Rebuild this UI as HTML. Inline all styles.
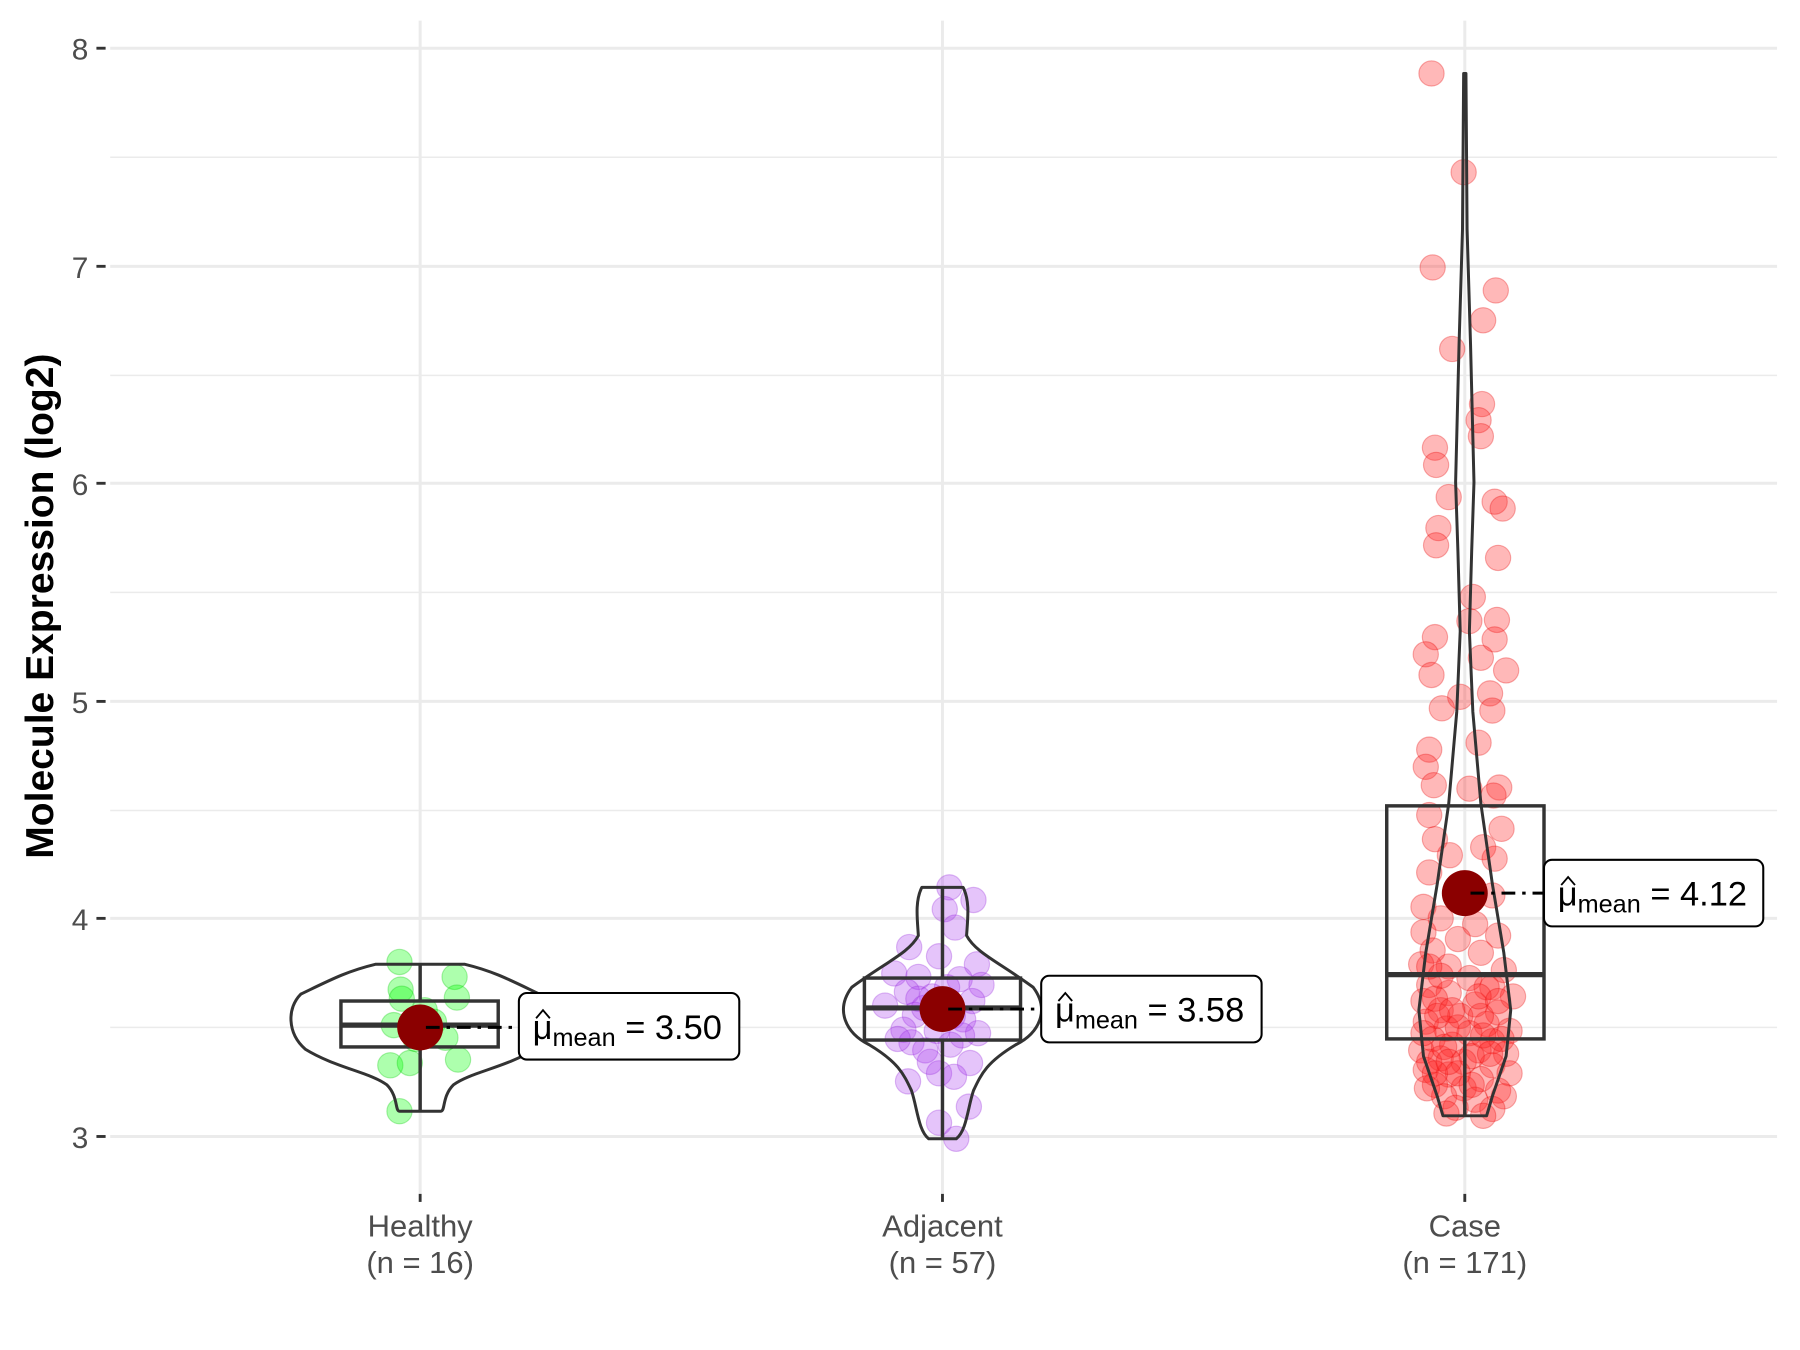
<!DOCTYPE html>
<html><head><meta charset="utf-8"><style>html,body{margin:0;padding:0;background:#fff}svg{display:block}</style></head>
<body>
<svg width="1800" height="1350" viewBox="0 0 1568 1176" xmlns="http://www.w3.org/2000/svg" font-family="Liberation Sans, Arial, sans-serif">
<rect width="1568" height="1176" fill="#fff"/>
<g stroke="#ebebeb" stroke-width="1.3">
<line x1="96" x2="1548" y1="137" y2="137"/><line x1="96" x2="1548" y1="327" y2="327"/>
<line x1="96" x2="1548" y1="516" y2="516"/><line x1="96" x2="1548" y1="706" y2="706"/>
<line x1="96" x2="1548" y1="895" y2="895"/>
</g>
<g stroke="#ebebeb" stroke-width="2.6">
<line x1="96" x2="1548" y1="42" y2="42"/><line x1="96" x2="1548" y1="232" y2="232"/>
<line x1="96" x2="1548" y1="421" y2="421"/><line x1="96" x2="1548" y1="611" y2="611"/>
<line x1="96" x2="1548" y1="800" y2="800"/><line x1="96" x2="1548" y1="990" y2="990"/>
<line x1="366" x2="366" y1="18" y2="1040"/><line x1="821" x2="821" y1="18" y2="1040"/><line x1="1276" x2="1276" y1="18" y2="1040"/>
</g>
<g stroke="#333" stroke-width="2.5">
<line x1="84" x2="92" y1="42" y2="42"/><line x1="84" x2="92" y1="232" y2="232"/><line x1="84" x2="92" y1="421" y2="421"/>
<line x1="84" x2="92" y1="611" y2="611"/><line x1="84" x2="92" y1="800" y2="800"/><line x1="84" x2="92" y1="990" y2="990"/>
<line x1="366" x2="366" y1="1040" y2="1047"/><line x1="821" x2="821" y1="1040" y2="1047"/><line x1="1276" x2="1276" y1="1040" y2="1047"/>
</g>
<g fill="#4d4d4d" font-size="26" text-anchor="end">
<text x="77" y="52">8</text><text x="77" y="242">7</text><text x="77" y="431">6</text>
<text x="77" y="621">5</text><text x="77" y="810">4</text><text x="77" y="1000">3</text>
</g>
<text transform="translate(46,528) rotate(-90)" text-anchor="middle" font-size="34" font-weight="bold" fill="#000">Molecule Expression (log2)</text>
<g fill="#4d4d4d" font-size="27" text-anchor="middle">
<text x="366" y="1077">Healthy</text><text x="366" y="1109">(n = 16)</text>
<text x="821" y="1077">Adjacent</text><text x="821" y="1109">(n = 57)</text>
<text x="1276" y="1077">Case</text><text x="1276" y="1109">(n = 171)</text>
</g>
<g fill="rgba(0,255,0,0.32)" stroke="rgba(0,200,0,0.3)">
<circle cx="348" cy="838" r="11"/><circle cx="396" cy="851" r="11"/><circle cx="349" cy="862" r="11"/><circle cx="350" cy="870" r="11"/>
<circle cx="398" cy="869" r="11"/><circle cx="343" cy="893" r="11"/><circle cx="378" cy="890" r="11"/><circle cx="388" cy="904" r="11"/>
<circle cx="340" cy="928" r="11"/><circle cx="357" cy="926" r="11"/><circle cx="399" cy="923" r="11"/><circle cx="348" cy="968" r="11"/>
<circle cx="362" cy="905" r="11"/><circle cx="370" cy="880" r="11"/>
</g>
<g fill="rgba(170,60,240,0.3)" stroke="rgba(150,40,220,0.3)">
<circle cx="827" cy="773" r="11"/><circle cx="848" cy="784" r="11"/><circle cx="823" cy="792" r="11"/><circle cx="832" cy="808" r="11"/>
<circle cx="792" cy="825" r="11"/><circle cx="818" cy="833" r="11"/><circle cx="851" cy="840" r="11"/><circle cx="779" cy="848" r="11"/>
<circle cx="800" cy="851" r="11"/><circle cx="836" cy="853" r="11"/><circle cx="855" cy="858" r="11"/><circle cx="790" cy="864" r="11"/>
<circle cx="812" cy="868" r="11"/><circle cx="847" cy="872" r="11"/><circle cx="771" cy="876" r="11"/><circle cx="797" cy="884" r="11"/>
<circle cx="839" cy="888" r="11"/><circle cx="787" cy="897" r="11"/><circle cx="816" cy="898" r="11"/><circle cx="852" cy="900" r="11"/>
<circle cx="794" cy="908" r="11"/><circle cx="828" cy="910" r="11"/><circle cx="806" cy="915" r="11"/><circle cx="845" cy="926" r="11"/>
<circle cx="818" cy="935" r="11"/><circle cx="831" cy="938" r="11"/><circle cx="791" cy="942" r="11"/><circle cx="844" cy="964" r="11"/>
<circle cx="818" cy="978" r="11"/><circle cx="833" cy="992" r="11"/><circle cx="805" cy="878" r="11"/><circle cx="825" cy="860" r="11"/>
<circle cx="838" cy="902" r="11"/><circle cx="782" cy="905" r="11"/><circle cx="810" cy="925" r="11"/><circle cx="800" cy="870" r="11"/><circle cx="830" cy="885" r="11"/>
</g>
<g fill="rgba(255,40,40,0.33)" stroke="rgba(230,0,0,0.3)">
<circle cx="1247" cy="64" r="11"/><circle cx="1275" cy="150" r="11"/><circle cx="1248" cy="233" r="11"/><circle cx="1303" cy="253" r="11"/>
<circle cx="1292" cy="279" r="11"/><circle cx="1265" cy="304" r="11"/><circle cx="1291" cy="352" r="11"/><circle cx="1288" cy="366" r="11"/>
<circle cx="1290" cy="380" r="11"/><circle cx="1250" cy="390" r="11"/><circle cx="1251" cy="405" r="11"/><circle cx="1262" cy="433" r="11"/>
<circle cx="1302" cy="437" r="11"/><circle cx="1309" cy="443" r="11"/><circle cx="1253" cy="460" r="11"/><circle cx="1251" cy="475" r="11"/>
<circle cx="1305" cy="486" r="11"/><circle cx="1283" cy="520" r="11"/><circle cx="1304" cy="540" r="11"/><circle cx="1280" cy="541" r="11"/>
<circle cx="1250" cy="555" r="11"/><circle cx="1302" cy="557" r="11"/><circle cx="1242" cy="570" r="11"/><circle cx="1290" cy="573" r="11"/>
<circle cx="1312" cy="584" r="11"/><circle cx="1247" cy="588" r="11"/><circle cx="1272" cy="607" r="11"/><circle cx="1298" cy="604" r="11"/>
<circle cx="1256" cy="617" r="11"/><circle cx="1300" cy="619" r="11"/><circle cx="1245" cy="653" r="11"/><circle cx="1288" cy="647" r="11"/>
<circle cx="1242" cy="668" r="11"/><circle cx="1249" cy="684" r="11"/><circle cx="1306" cy="686" r="11"/><circle cx="1280" cy="687" r="11"/>
<circle cx="1301" cy="693" r="11"/><circle cx="1245" cy="710" r="11"/><circle cx="1308" cy="722" r="11"/><circle cx="1250" cy="731" r="11"/>
<circle cx="1292" cy="738" r="11"/><circle cx="1245" cy="760" r="11"/><circle cx="1302" cy="748" r="11"/><circle cx="1263" cy="745" r="11"/>
<circle cx="1240" cy="790" r="11"/><circle cx="1300" cy="780" r="11"/><circle cx="1255" cy="800" r="11"/><circle cx="1285" cy="805" r="11"/>
<circle cx="1240" cy="812" r="11"/><circle cx="1270" cy="818" r="11"/><circle cx="1305" cy="815" r="11"/><circle cx="1248" cy="828" r="11"/>
<circle cx="1290" cy="830" r="11"/><circle cx="1238" cy="840" r="11"/><circle cx="1262" cy="842" r="11"/><circle cx="1310" cy="845" r="11"/>
<circle cx="1280" cy="852" r="11"/><circle cx="1245" cy="858" r="11"/><circle cx="1300" cy="860" r="11"/><circle cx="1262" cy="865" r="11"/>
<circle cx="1318" cy="868" r="11"/><circle cx="1240" cy="872" r="11"/><circle cx="1285" cy="875" r="11"/><circle cx="1255" cy="880" r="11"/>
<circle cx="1305" cy="882" r="11"/><circle cx="1272" cy="885" r="11"/><circle cx="1242" cy="890" r="11"/><circle cx="1295" cy="892" r="11"/>
<circle cx="1260" cy="896" r="11"/><circle cx="1315" cy="898" r="11"/><circle cx="1280" cy="900" r="11"/><circle cx="1248" cy="905" r="11"/>
<circle cx="1300" cy="907" r="11"/><circle cx="1265" cy="910" r="11"/><circle cx="1238" cy="915" r="11"/><circle cx="1288" cy="915" r="11"/>
<circle cx="1312" cy="918" r="11"/><circle cx="1255" cy="922" r="11"/><circle cx="1275" cy="925" r="11"/><circle cx="1300" cy="928" r="11"/>
<circle cx="1242" cy="932" r="11"/><circle cx="1262" cy="936" r="11"/><circle cx="1315" cy="935" r="11"/><circle cx="1290" cy="940" r="11"/>
<circle cx="1250" cy="945" r="11"/><circle cx="1275" cy="948" r="11"/><circle cx="1305" cy="950" r="11"/><circle cx="1258" cy="955" r="11"/>
<circle cx="1285" cy="958" r="11"/><circle cx="1310" cy="955" r="11"/><circle cx="1268" cy="965" r="11"/><circle cx="1300" cy="966" r="11"/>
<circle cx="1260" cy="970" r="11"/><circle cx="1292" cy="972" r="11"/><circle cx="1270" cy="895" r="11"/><circle cx="1250" cy="870" r="11"/>
<circle cx="1295" cy="860" r="11"/><circle cx="1282" cy="920" r="11"/><circle cx="1245" cy="925" r="11"/><circle cx="1308" cy="905" r="11"/>
<circle cx="1252" cy="885" r="11"/><circle cx="1265" cy="880" r="11"/><circle cx="1290" cy="885" r="11"/><circle cx="1240" cy="900" r="11"/>
<circle cx="1258" cy="912" r="11"/><circle cx="1292" cy="902" r="11"/><circle cx="1270" cy="935" r="11"/><circle cx="1250" cy="935" r="11"/>
<circle cx="1298" cy="918" r="11"/><circle cx="1243" cy="948" r="11"/><circle cx="1282" cy="945" r="11"/><circle cx="1262" cy="925" r="11"/>
<circle cx="1255" cy="850" r="11"/><circle cx="1288" cy="868" r="11"/><circle cx="1305" cy="872" r="11"/><circle cx="1245" cy="842" r="11"/>
</g>
<g fill="none" stroke="#333" stroke-width="2.6" stroke-linejoin="round">
<path d="M327,840 L405,840 C430,846 445,854 470,866 C482,878 482,900 466,914 C440,930 410,934 395,945 C385,955 388,968 384,968 L348,968 C344,968 347,955 337,945 C322,934 292,930 266,914 C250,900 250,878 262,866 C287,854 302,846 327,840 Z"/>
<path d="M803,773 L839,773 C845,785 843,800 842,815 C850,830 870,838 900,860 C915,880 905,900 885,910 C860,925 855,935 848,950 C843,965 842,985 833,992 L809,992 C800,985 799,965 794,950 C787,935 782,925 757,910 C737,900 727,880 742,860 C772,838 792,830 800,815 C799,800 797,785 803,773 Z"/>
<path d="M1275,64 L1277,64 L1278,200 L1281,300 L1284,420 L1282,480 L1280,550 L1283,620 L1290,700 L1300,770 L1310,830 L1316,880 L1312,920 L1300,955 L1295,972 L1257,972 L1252,955 L1240,920 L1236,880 L1242,830 L1252,770 L1262,700 L1269,620 L1272,550 L1270,480 L1268,420 L1271,300 L1274,200 Z"/>
</g>
<g fill="none" stroke="#333" stroke-width="3">
<line x1="366" x2="366" y1="840" y2="872"/><line x1="366" x2="366" y1="912" y2="968"/>
<rect x="297" y="872" width="137" height="40" fill="none"/><line x1="297" x2="434" y1="893" y2="893" stroke-width="4.5"/>
<line x1="821" x2="821" y1="773" y2="852"/><line x1="821" x2="821" y1="906" y2="992"/>
<rect x="753" y="852" width="136" height="54"/><line x1="753" x2="889" y1="878" y2="878" stroke-width="4.5"/>
<line x1="1276" x2="1276" y1="905" y2="972"/>
<rect x="1208" y="702" width="137" height="203"/><line x1="1208" x2="1345" y1="849" y2="849" stroke-width="4.5"/>
</g>
<g fill="#8b0000">
<circle cx="366" cy="895" r="20"/><circle cx="821" cy="879" r="20"/><circle cx="1276" cy="778" r="20"/>
</g>
<g stroke="#000" stroke-width="2.6" stroke-dasharray="12,6,3,6" fill="none">
<line x1="371" x2="452" y1="895" y2="895"/><line x1="826" x2="907" y1="879" y2="879"/><line x1="1281" x2="1345" y1="778" y2="778"/>
</g>
<g font-size="30" fill="#000">
<rect x="452" y="865" width="192" height="58" rx="7" fill="#fff" stroke="#000" stroke-width="1.8"/>
<path d="M467,887 L473,880 L479,887" fill="none" stroke="#000" stroke-width="1.6"/>
<text x="464" y="905">μ<tspan font-size="22" dy="6">mean</tspan><tspan dy="-6"> = 3.50</tspan></text>
<rect x="907" y="850" width="192" height="58" rx="7" fill="#fff" stroke="#000" stroke-width="1.8"/>
<path d="M922,872 L928,865 L934,872" fill="none" stroke="#000" stroke-width="1.6"/>
<text x="919" y="890">μ<tspan font-size="22" dy="6">mean</tspan><tspan dy="-6"> = 3.58</tspan></text>
<rect x="1345" y="749" width="191" height="58" rx="7" fill="#fff" stroke="#000" stroke-width="1.8"/>
<path d="M1360,771 L1366,764 L1372,771" fill="none" stroke="#000" stroke-width="1.6"/>
<text x="1357" y="789">μ<tspan font-size="22" dy="6">mean</tspan><tspan dy="-6"> = 4.12</tspan></text>
</g>
</svg>
</body></html>
